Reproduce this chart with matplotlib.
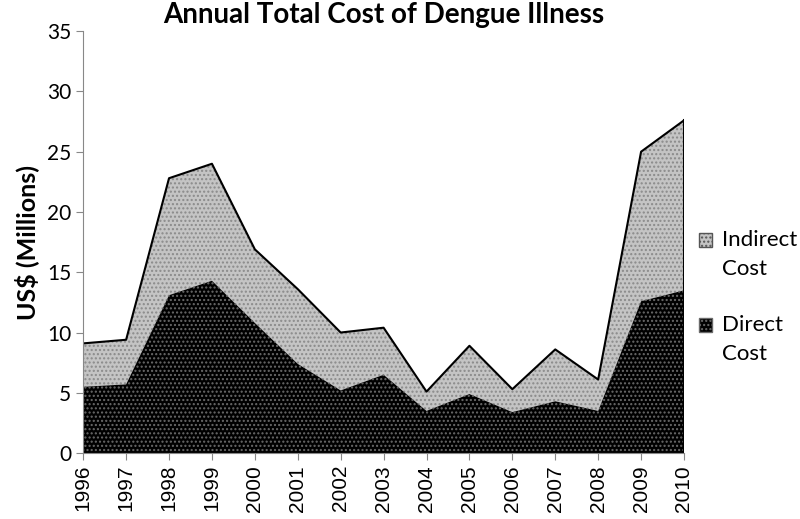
import matplotlib
matplotlib.use("Agg")
from matplotlib import pyplot as plt
from matplotlib.patches import Rectangle

# datos
years = [1996, 1997, 1998, 1999, 2000, 2001, 2002, 2003, 2004, 2005, 2006, 2007, 2008, 2009, 2010]
direct = [5.5, 5.7, 13.1, 14.3, 10.8, 7.4, 5.2, 6.5, 3.5, 4.9, 3.4, 4.3, 3.5, 12.6, 13.5]
total = [9.1, 9.4, 22.8, 24.0, 16.9, 13.6, 10.0, 10.4, 5.1, 8.9, 5.3, 8.6, 6.1, 25.0, 27.6]
indirect = [t - d for t, d in zip(total, direct)]
xlabels = [str(y) for y in years]
series = ["Indirect\nCost", "Direct\nCost"]

fig = plt.figure(figsize=(8, 5.19), dpi=100)
ax = fig.add_axes([0.104, 0.127, 0.751, 0.813])

top = [d + i for d, i in zip(direct, indirect)]
# areas apiladas con textura punteada
ax.fill_between(years, direct, top, facecolor="#c4c4c4", edgecolor="#8a8a8a",
                hatch="....", linewidth=0)
ax.fill_between(years, 0, direct, facecolor="black", edgecolor="#6a6a6a",
                hatch="....", linewidth=0)
ax.plot(years, top, color="black", linewidth=1.5)
ax.plot([years[-1], years[-1]], [0, top[-1]], color="black", linewidth=1.5)

ax.set_xlim(1996, 2010)
ax.set_ylim(0, 35)
ax.set_yticks(range(0, 36, 5))
ax.set_xticks(years)
ax.set_xticklabels(xlabels, rotation=90, fontsize=15, family="Liberation Sans")
for lab in ax.get_yticklabels():
    lab.set_fontsize(15)
    lab.set_family("Lato")
ax.tick_params(direction="out", length=5, color="#888888")
for s in ["top", "right"]:
    ax.spines[s].set_visible(False)
for s in ["left", "bottom"]:
    ax.spines[s].set_color("#888888")

ax.set_ylabel("US$ (Millions)", fontsize=18, fontweight="bold", family="Lato", labelpad=6)
ax.set_title("Annual Total Cost of Dengue Illness", fontsize=20, fontweight="bold",
             family="Lato", pad=6)

# leyenda manual a la derecha
W, H = 800.0, 519.0
colors = ["#c4c4c4", "black"]
hatchc = ["#555555", "#6a6a6a"]
ys = [240, 325]
for lab, c, hc, yp in zip(series, colors, hatchc, ys):
    fig.patches.append(Rectangle((699 / W, 1 - (yp + 7) / H), 13 / W, 14 / H,
                                 transform=fig.transFigure, facecolor=c,
                                 edgecolor=hc, hatch="....", linewidth=1))
    first, second = lab.split("\n")
    fig.text(722 / W, 1 - yp / H, first, fontsize=16, family="Lato", va="center")
    fig.text(722 / W, 1 - (yp + 29) / H, second, fontsize=16, family="Lato", va="center")

plt.savefig("out.png", dpi=100)
